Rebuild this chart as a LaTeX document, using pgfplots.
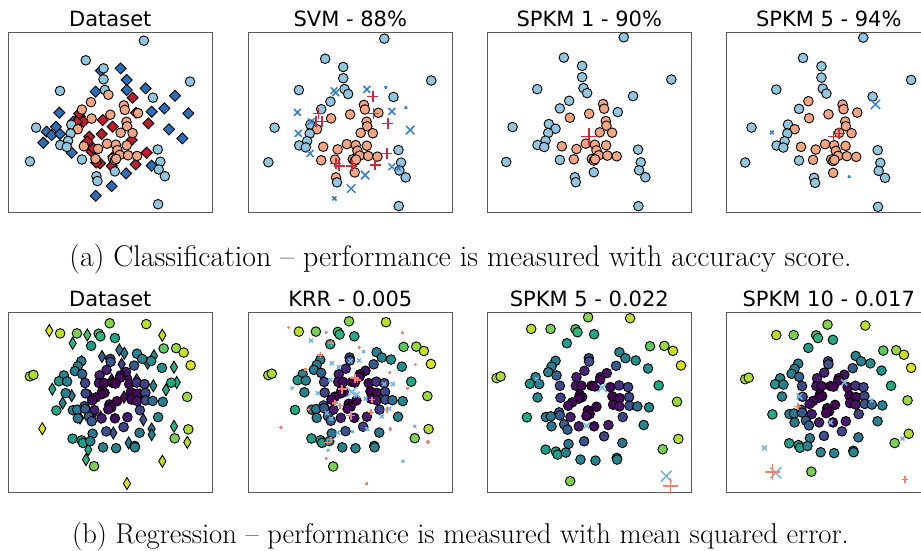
\documentclass[border=0pt]{standalone}
\usepackage{fontspec}
\usepackage{pgfplots}
\usepackage{pgfplotstable}
\pgfplotsset{compat=1.18}
\newfontfamily\dejavu{DejaVu Sans}
\definecolor{lb}{RGB}{146,197,222}
\definecolor{sal}{RGB}{244,165,130}
\definecolor{db}{RGB}{44,111,183}
\definecolor{dr}{RGB}{190,30,45}
\definecolor{bx}{RGB}{55,125,200}
\definecolor{rp}{RGB}{210,40,55}
\definecolor{lbx}{RGB}{110,180,225}
\definecolor{salp}{RGB}{240,130,105}
\pgfplotsset{
  colormap={cls}{color=(lb) color=(sal)},
  panel/.style={scale only axis, width=204pt, height=180.5pt, anchor=north west,
    y dir=reverse, ticks=none, axis line style={black!65, line width=0.9pt},
    clip=true, point meta min=0, point meta max=1},
  circ/.style={scatter, only marks, mark=*, mark size=4.8pt, scatter src=explicit,
    scatter/use mapped color={draw=black, fill=mapped color}, mark options={line width=0.9pt}},
  tdia/.style={only marks, mark=square*, mark size=3.9pt, mark options={rotate=45, draw=black, line width=0.9pt, fill=#1}},
  bdia/.style={scatter, only marks, mark=diamond*, mark size=6pt, scatter src=explicit,
    scatter/use mapped color={draw=black, fill=mapped color}, mark options={xscale=0.8, line width=0.9pt}},
  xm/.style 2 args={only marks, mark=x, mark size=#2pt*1.2, color=#1, mark options={line width=1.5pt}},
  pm/.style 2 args={only marks, mark=+, mark size=#2pt*1.2, color=#1, mark options={line width=1.5pt}},
}
\pgfplotstableread{
x y l1 l2 l3 l4
432 112 0 0 0 0
252 173 0 0 0 0
307 198 0 0 0 0
307 232 0 0 0 0
311 265 0 0 0 0
322 280 1 0 0 0
172 268 0 0 0 0
575 239 0 0 0 0
460 289 0 0 0 0
268 303 1 0 0 1
240 326 1 0 0 0
414 337 1 1 0 1
98 382 0 0 0 0
207 373 0 0 0 0
227 387 1 1 0 1
205 400 0 0 0 0
197 423 0 0 0 0
173 436 0 0 0 0
193 442 0 0 0 0
79 487 0 0 0 0
240 481 0 1 0 0
342 518 0 1 0 1
285 533 0 1 0 0
288 548 0 0 0 0
475 450 0 0 0 0
483 488 0 0 0 0
478 512 0 0 0 0
497 533 0 0 0 0
476 620 0 0 0 0
370 313 1 1 1 1
373 327 1 1 1 1
328 342 1 1 1 1
270 354 1 1 1 1
378 364 1 1 1 1
380 378 1 1 1 1
360 398 1 1 1 1
397 399 1 1 1 1
318 432 1 1 1 1
345 435 1 1 1 1
379 437 1 1 1 1
246 440 1 1 1 1
290 448 1 1 1 1
350 452 1 1 1 1
357 467 1 1 1 1
383 468 1 1 1 1
411 470 1 1 1 1
282 479 1 1 1 1
336 478 1 1 1 1
342 483 1 1 1 1
346 479 1 1 1 1
}\topc
\pgfplotstableread{
x y c
325 112 0.82
451 115 0.9
154 147 0.9
212 147 0.8
287 148 0.72
293 157 0.65
343 163 0.6
261 190 0.55
511 199 0.75
554 198 0.85
580 213 0.92
604 257 0.95
419 217 0.45
437 235 0.45
468 242 0.5
505 266 0.5
227 243 0.42
215 260 0.42
205 277 0.42
230 287 0.32
327 235 0.22
328 245 0.25
409 258 0.28
314 273 0.1
381 280 0.05
362 292 0.05
361 300 0.02
50 295 0.88
62 290 0.88
167 292 0.45
150 312 0.52
178 313 0.45
290 292 0.08
240 318 0.22
288 318 0.05
305 318 0.02
335 318 0.0
345 320 0.0
392 322 0.02
418 317 0.15
445 322 0.2
537 317 0.6
173 353 0.45
242 354 0.2
300 345 0.0
307 352 0.0
296 357 0.0
277 368 0.02
265 378 0.03
398 350 0.0
420 355 0.02
448 352 0.22
400 375 0.02
419 380 0.05
449 378 0.25
473 380 0.35
508 383 0.45
592 366 0.85
350 381 0.0
324 392 0.0
330 403 0.0
320 409 0.02
141 413 0.6
198 412 0.42
213 410 0.4
238 398 0.28
240 407 0.28
272 412 0.08
215 440 0.4
253 434 0.3
263 450 0.3
297 440 0.08
343 440 0.02
386 436 0.08
429 412 0.2
492 436 0.45
373 470 0.2
313 485 0.25
266 493 0.4
197 510 0.55
228 516 0.55
233 525 0.55
258 519 0.45
428 490 0.4
549 509 0.8
596 478 0.88
302 540 0.45
347 543 0.45
411 535 0.4
412 540 0.45
271 605 0.8
}\botc
\pgfplotstableread{
x y c
116.7 137.3 0.95
247.7 152.2 0.7
197.2 180.9 0.65
506.4 153.4 0.9
358.1 203.8 0.4
375.3 215.3 0.4
477.6 224.5 0.5
298.3 226.8 0.3
366.1 253.1 0.2
455.8 249.7 0.4
546.6 263.5 0.65
228.2 244.0 0.4
331.6 307.0 0.02
389.1 301.3 0.05
417.9 307.0 0.2
475.3 327.7 0.45
555.8 316.2 0.65
519.0 341.4 0.6
127.1 339.2 0.6
162.7 387.3 0.45
193.7 362.1 0.4
256.9 364.4 0.1
374.2 366.7 0.02
429.3 358.6 0.15
270.7 421.7 0.1
293.7 435.5 0.15
222.5 438.9 0.3
440.8 444.7 0.25
469.6 476.8 0.45
469.6 496.3 0.45
546.6 467.6 0.65
92.6 475.6 0.95
592.6 522.6 0.9
337.4 490.5 0.25
390.3 524.9 0.4
251.2 547.9 0.6
243.1 582.3 0.65
506.4 588.0 0.9
384.5 664.8 0.95
}\botd
\begin{document}
\begin{tikzpicture}
\useasboundingbox (0pt,0pt) rectangle (921pt,-550pt);
\clip (0pt,0pt) rectangle (921pt,-550pt);
% ---------- top row ----------
\begin{axis}[panel, at={(8.3pt,-32.3pt)}, xmin=11.9, xmax=644, ymin=86, ymax=646.6, colormap name=cls]
\addplot[tdia=db] coordinates {(360.1,197.9) (299.1,205.1) (378.6,234.1) (282.6,270.4) (378.6,265.2) (437.5,260.0) (528.4,282.8) (456.1,332.6) (495.4,322.2) (569.7,337.7) (170.0,335.7) (213.4,363.6) (159.6,379.2) (130.7,394.7) (146.2,405.1) (172.0,402.0) (120.4,428.9) (208.2,460.0) (509.8,387.5) (551.2,415.4) (456.1,500.4) (376.6,524.2) (332.2,563.6) (282.6,593.6)};
\addplot[tdia=dr] coordinates {(397.2,289.0) (407.6,335.7) (445.8,368.8) (234.0,348.1) (244.4,363.6) (304.3,358.5) (335.3,379.2) (301.2,402.0) (394.1,420.6) (263.0,410.3) (256.8,425.8) (270.2,456.9) (296.0,493.1) (332.2,501.4) (440.6,460.0) (406.5,496.2) (337.3,472.4) (275.3,446.5) (224.3,364.1) (231.4,338.8) (284.3,490.6)};
\addplot[circ] table[x=x, y=y, meta=l1] {\topc};
\end{axis}
\begin{axis}[panel, at={(248.3pt,-32.3pt)}, xmin=18, xmax=639, ymin=92.8, ymax=640.4, colormap name=cls]
\addplot[circ] table[x=x, y=y, meta=l2] {\topc};
\addplot[xm={bx}{4}] coordinates {(167.4,335.7) (209.1,364.1) (170.4,399.5) (206,460.2) (279.2,269.9) (284.3,276) (378.8,265.9) (455,332.7) (455,500.7)};
\addplot[xm={bx}{5}] coordinates {(510.9,389.4) (373.7,526) (331,566.5)};
\addplot[xm={bx}{2.5}] coordinates {(475.3,505.8) (280.2,596.8)};
\addplot[xm={bx}{1.3}] coordinates {(436.7,259.8) (497.7,321.5)};
\addplot[pm={rp}{4.5}] coordinates {(397.1,288.2) (399.1,338.8) (442.8,369.1) (231.4,338.8) (224.3,364.1) (241.6,364.1) (284.3,490.6) (294.4,497.7) (333.1,497.7) (404.2,495.6) (439.8,460.2)};
\end{axis}
\begin{axis}[panel, at={(487.3pt,-32.3pt)}, xmin=22, xmax=635, ymin=97, ymax=640, colormap name=cls]
\addplot[circ] table[x=x, y=y, meta=l3] {\topc};
\addplot[pm={rp}{7}] coordinates {(328,410)};
\end{axis}
\begin{axis}[panel, at={(726.8pt,-32.3pt)}, xmin=24.2, xmax=633.8, ymin=96, ymax=638, colormap name=cls]
\addplot[circ] table[x=x, y=y, meta=l4] {\topc};
\addplot[xm={bx}{5.5}] coordinates {(468.4,312.4)};
\addplot[xm={bx}{2.2}] coordinates {(158.7,396.6)};
\addplot[xm={bx}{1.3}] coordinates {(389.7,529.9)};
\addplot[pm={rp}{4.5}] coordinates {(342.9,409.6) (359.9,399.6)};
\end{axis}
% ---------- bottom row ----------
\begin{axis}[panel, at={(8.3pt,-312.3pt)}, xmin=-24.7, xmax=678.7, ymin=74.2, ymax=696.9, colormap/viridis]
\addplot[bdia] table[x=x, y=y, meta=c] {\botd};
\addplot[circ] table[x=x, y=y, meta=c] {\botc};
\end{axis}
\begin{axis}[panel, at={(248.3pt,-312.3pt)}, xmin=-18.2, xmax=676.9, ymin=81.5, ymax=694.4, colormap/viridis]
\addplot[circ] table[x=x, y=y, meta=c] {\botc};
\addplot[xm={lbx}{1.5}] coordinates {(337,486.7) (253.8,549.9) (508.6,587.1) (549.6,468.6) (130.9,338.8) (374.4,214.7)};
\addplot[xm={lbx}{2.3}] coordinates {(195.7,177.4) (266.3,254.2) (330,246.3) (474.5,325.3) (444.9,325.3) (218.5,355.8) (381.2,375) (436.9,434.8) (462,408.8) (264,442.7) (249.2,423.5) (286.7,490.1) (386.9,477.6) (358.4,245.1) (290.2,267.7) (260.6,310.6)};
\addplot[xm={lbx}{3.5}] coordinates {(351.6,361.4)};
\addplot[xm={lbx}{6}] coordinates {(334.5,352.4)};
\addplot[pm={salp}{1.3}] coordinates {(118.4,133.4) (246.9,150.3) (359.6,201.1) (507.5,151.5) (550.7,258.7) (464.2,285.8) (465.4,477.6) (524.5,338.8) (186.6,412.2) (93.3,472) (593.9,521.7) (246.9,578.1) (385.7,663.9) (175.3,274.5)};
\addplot[pm={salp}{2.5}] coordinates {(265.1,186.5) (227.6,226) (353.9,310.6) (277.6,389.6) (294.7,398.6) (399.4,421.2) (403.9,378.3) (454,412.2) (262.9,513.8) (251.5,522.8)};
\addplot[pm={salp}{3.8}] coordinates {(344.8,305) (301.5,342.2) (331.1,432.5)};
\end{axis}
\begin{axis}[panel, at={(487.3pt,-312.3pt)}, xmin=22, xmax=635, ymin=97, ymax=640, colormap/viridis]
\addplot[circ] table[x=x, y=y, meta=c] {\botc};
\addplot[xm={lbx}{5.3}] coordinates {(367,324)};
\addplot[xm={lbx}{2}] coordinates {(170,298)};
\addplot[xm={lbx}{3.5}] coordinates {(320,438)};
\addplot[xm={lbx}{6.5}] coordinates {(560,590)};
\addplot[pm={salp}{6.5}] coordinates {(572,620)};
\end{axis}
\begin{axis}[panel, at={(726.8pt,-312.3pt)}, xmin=-11.1, xmax=669.6, ymin=70.7, ymax=676, colormap/viridis]
\addplot[circ] table[x=x, y=y, meta=c] {\botc};
\addplot[xm={lbx}{3.5}] coordinates {(380.4,305.9) (231.3,352.7)};
\addplot[xm={lbx}{2.8}] coordinates {(334.8,439.6) (114.5,525.5)};
\addplot[xm={lbx}{2.2}] coordinates {(575,494.3) (472.7,366.1)};
\addplot[xm={lbx}{6.5}] coordinates {(152.3,609.1)};
\addplot[pm={salp}{6.5}] coordinates {(141.2,605.7)};
\addplot[pm={salp}{2.8}] coordinates {(225.8,386.1) (583.9,631.4)};
\end{axis}
% ---------- titles ----------
\begin{scope}[every node/.style={font=\dejavu\fontsize{21}{25}\selectfont, anchor=base, inner sep=0pt}]
\node at (110.3pt,-26pt) {Dataset};
\node at (350.3pt,-26pt) {SVM - 88\%};
\node at (589.3pt,-26pt) {SPKM 1 - 90\%};
\node at (828.8pt,-26pt) {SPKM 5 - 94\%};
\node at (110.3pt,-306pt) {Dataset};
\node at (350.3pt,-306pt) {KRR - 0.005};
\node at (589.3pt,-306pt) {SPKM 5 - 0.022};
\node at (828.8pt,-306pt) {SPKM 10 - 0.017};
\end{scope}
\node[font=\fontsize{29.9}{34}\selectfont, anchor=base, inner sep=0pt] at (460.5pt,-266pt) {(a) Classification -- performance is measured with accuracy score.};
\node[font=\fontsize{28.6}{33}\selectfont, anchor=base, inner sep=0pt] at (460.5pt,-543pt) {(b) Regression -- performance is measured with mean squared error.};
\end{tikzpicture}
\end{document}
